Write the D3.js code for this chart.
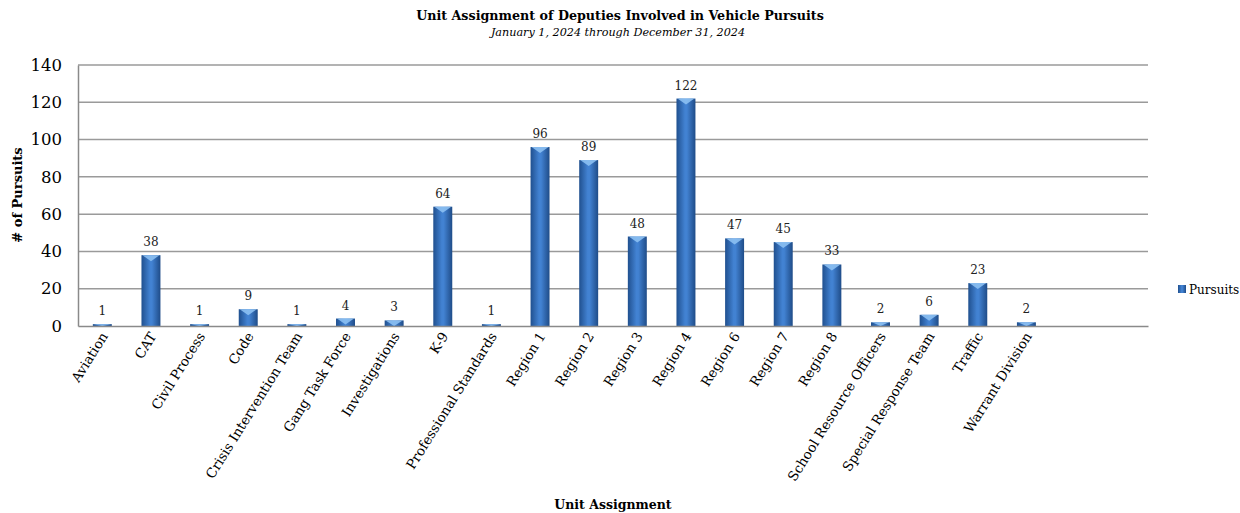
<!DOCTYPE html>
<html>
<head>
<meta charset="utf-8">
<script src="https://cdn.jsdelivr.net/npm/d3@7"></script>
<style>
  body { margin: 0; background: #fff; }
  text { font-family: "DejaVu Serif", "Liberation Serif", serif; fill: #000; }
</style>
</head>
<body>
<div class="visHolder"></div>
<script>
const categories = ['Aviation', 'CAT', 'Civil Process', 'Code', 'Crisis Intervention Team',
  'Gang Task Force', 'Investigations', 'K-9', 'Professional Standards', 'Region 1', 'Region 2',
  'Region 3', 'Region 4', 'Region 6', 'Region 7', 'Region 8', 'School Resource Officers',
  'Special Response Team', 'Traffic', 'Warrant Division'];
const pursuits = [1, 38, 1, 9, 1, 4, 3, 64, 1, 96, 89, 48, 122, 47, 45, 33, 2, 6, 23, 2];
const yTicks = [0, 20, 40, 60, 80, 100, 120, 140];
const emptySlots = 2;

const w = 1240;
const h = 513;
const plotLeft = 78, plotRight = 1148, plotTop = 65, plotBottom = 326;

const svg = d3.select('.visHolder')
  .append('svg')
  .attr('width', w)
  .attr('height', h);

const defs = svg.append('defs');
const grad = defs.append('linearGradient').attr('id', 'barGrad')
  .attr('x1', '0').attr('x2', '1').attr('y1', '0').attr('y2', '0');
grad.append('stop').attr('offset', '0%').attr('stop-color', '#20508f');
grad.append('stop').attr('offset', '45%').attr('stop-color', '#4282d2');
grad.append('stop').attr('offset', '55%').attr('stop-color', '#4282d2');
grad.append('stop').attr('offset', '100%').attr('stop-color', '#1f4c88');

const slots = d3.range(categories.length + emptySlots);
const xScale = d3.scaleBand()
  .domain(slots)
  .range([plotLeft, plotRight])
  .paddingInner(0.61)
  .paddingOuter(0.305);

const yScale = d3.scaleLinear()
  .domain([0, 140])
  .range([plotBottom, plotTop]);

// gridlines
svg.append('g')
  .selectAll('line')
  .data(yTicks.filter(d => d > 0))
  .enter()
  .append('line')
  .attr('x1', plotLeft)
  .attr('x2', plotRight)
  .attr('y1', d => yScale(d))
  .attr('y2', d => yScale(d))
  .style('stroke', '#9a9a9a')
  .style('stroke-width', 1.5);

// y axis
const yAxis = d3.axisLeft(yScale).tickValues(yTicks).tickSize(0).tickPadding(16);
const yG = svg.append('g')
  .attr('transform', 'translate(' + plotLeft + ',0)')
  .call(yAxis);
yG.select('.domain').style('stroke', '#8a8a8a').style('stroke-width', 1.5);
yG.selectAll('text')
  .style('font-family', '"DejaVu Serif", serif')
  .style('font-size', '16.5px')
  .attr('fill', '#000');

// bars
const bars = svg.append('g')
  .selectAll('g')
  .data(pursuits)
  .enter()
  .append('g');

bars.append('rect')
  .attr('x', (d, i) => xScale(i))
  .attr('y', d => yScale(d))
  .attr('width', xScale.bandwidth())
  .attr('height', d => plotBottom - yScale(d))
  .style('fill', 'url(#barGrad)');

bars.append('path')
  .attr('d', (d, i) => {
    const x0 = xScale(i), bw = xScale.bandwidth(), y0 = yScale(d);
    const th = Math.min(6, plotBottom - y0);
    return 'M' + (x0 + 1) + ',' + y0 + 'L' + (x0 + bw - 1) + ',' + y0 +
      'L' + (x0 + bw / 2) + ',' + (y0 + th) + 'Z';
  })
  .style('fill', '#8cc0f2')
  .style('opacity', 0.9);

bars.append('text')
  .attr('x', (d, i) => xScale(i) + xScale.bandwidth() / 2)
  .attr('y', d => yScale(d) - 9)
  .attr('text-anchor', 'middle')
  .style('font-size', '12px')
  .style('fill', '#222')
  .text(d => d);

// x axis line
const xAxis = d3.axisBottom(xScale).tickSize(0).tickFormat('');
const xG = svg.append('g')
  .attr('transform', 'translate(0,' + plotBottom + ')')
  .call(xAxis);
xG.select('.domain').style('stroke', '#8a8a8a').style('stroke-width', 1.5);

// category labels
svg.append('g')
  .selectAll('text')
  .data(categories)
  .enter()
  .append('text')
  .attr('transform', (d, i) => 'translate(' + (xScale(i) + xScale.bandwidth() / 2 + 6) + ',' + (plotBottom + 10) + ') rotate(-58)')
  .attr('text-anchor', 'end')
  .style('font-size', '13.5px')
  .text(d => d);

// titles
svg.append('text')
  .attr('x', 620)
  .attr('y', 20)
  .attr('text-anchor', 'middle')
  .style('font-size', '12.7px')
  .style('font-weight', 'bold')
  .text('Unit Assignment of Deputies Involved in Vehicle Pursuits');

svg.append('text')
  .attr('x', 618)
  .attr('y', 36)
  .attr('text-anchor', 'middle')
  .style('font-size', '11.2px')
  .style('font-style', 'italic')
  .text('January 1, 2024 through December 31, 2024');

svg.append('text')
  .attr('x', 613)
  .attr('y', 509)
  .attr('text-anchor', 'middle')
  .style('font-size', '12.5px')
  .style('font-weight', 'bold')
  .text('Unit Assignment');

svg.append('text')
  .attr('transform', 'rotate(-90)')
  .attr('x', -195)
  .attr('y', 22)
  .attr('text-anchor', 'middle')
  .style('font-size', '13px')
  .style('font-weight', 'bold')
  .text('# of Pursuits');

// legend
const legend = svg.append('g').attr('id', 'legend');
legend.append('rect')
  .attr('x', 1178)
  .attr('y', 285)
  .attr('width', 8)
  .attr('height', 8)
  .style('fill', 'url(#barGrad)');
legend.append('text')
  .attr('x', 1189)
  .attr('y', 294)
  .style('font-size', '12px')
  .text('Pursuits');
</script>
</body>
</html>
